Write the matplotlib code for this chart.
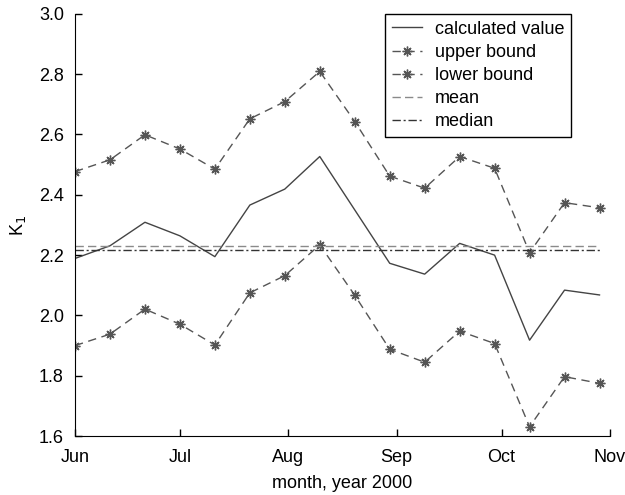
import datetime as dt
import numpy as np
import matplotlib
matplotlib.use('Agg')
import matplotlib.pyplot as plt

# one value every 10 days, starting 1 June 2000
start = dt.date(2000, 6, 1)
step_days = 10
calculated = [2.189, 2.231, 2.309, 2.264, 2.195, 2.366, 2.419, 2.527,
              2.350, 2.173, 2.137, 2.239, 2.200, 1.918, 2.084, 2.068]
upper = [2.477, 2.516, 2.599, 2.552, 2.485, 2.652, 2.709, 2.809,
         2.643, 2.462, 2.422, 2.527, 2.488, 2.208, 2.374, 2.357]
lower = [1.900, 1.938, 2.021, 1.971, 1.902, 2.075, 2.132, 2.234,
         2.067, 1.888, 1.845, 1.948, 1.907, 1.631, 1.797, 1.775]
month_ticks = [dt.date(2000, m, 1) for m in range(6, 12)]
month_labels = ['Jun', 'Jul', 'Aug', 'Sep', 'Oct', 'Nov']
y_ticks = [1.6, 1.8, 2.0, 2.2, 2.4, 2.6, 2.8, 3.0]


def main():
    plt.rcParams['font.family'] = ['Liberation Sans', 'DejaVu Sans']
    plt.rcParams['font.size'] = 13

    dates = [start + dt.timedelta(days=step_days * i) for i in range(len(calculated))]
    mean_val = np.mean(calculated)
    median_val = np.median(calculated)

    fig = plt.figure(figsize=(6.25, 4.95), dpi=100)
    ax = fig.add_axes([0.12, 0.119, 0.856, 0.853])

    ax.plot(dates, calculated, '-', color='#444444', lw=1.0, label='calculated value')
    star = (8, 2, 0)
    ax.plot(dates, upper, '--', color='#555555', lw=1.0, dashes=(6, 4),
            marker=star, ms=7, mew=1.0, label='upper bound')
    ax.plot(dates, lower, '--', color='#555555', lw=1.0, dashes=(6, 4),
            marker=star, ms=7, mew=1.0, label='lower bound')
    ax.plot([dates[0], dates[-1]], [mean_val, mean_val], '--', color='#8a8a8a',
            lw=1.0, dashes=(6, 3), label='mean')
    ax.plot([dates[0], dates[-1]], [median_val, median_val], '-.', color='#333333',
            lw=1.0, dashes=(6, 2, 1.5, 2), label='median')

    ax.set_xlim(month_ticks[0], month_ticks[-1])
    ax.set_ylim(1.6, 3.0)
    ax.set_xticks(month_ticks)
    ax.set_xticklabels(month_labels)
    ax.set_yticks(y_ticks)
    ax.yaxis.set_major_formatter(matplotlib.ticker.FormatStrFormatter('%.1f'))
    ax.tick_params(direction='in', length=5, width=1)
    ax.tick_params(axis='x', pad=9)
    ax.tick_params(axis='y', pad=8)

    ax.spines['top'].set_visible(False)
    ax.spines['right'].set_visible(False)

    ax.set_xlabel('month, year 2000', labelpad=7)
    ax.set_ylabel('K$_1$', labelpad=8)

    leg = ax.legend(loc='upper right', bbox_to_anchor=(0.928, 1.0), fancybox=False,
                    framealpha=1, edgecolor='black', handlelength=1.7,
                    labelspacing=0.34, borderpad=0.38, handletextpad=0.7,
                    borderaxespad=0)
    leg.get_frame().set_linewidth(1.0)

    fig.savefig('out.png', dpi=100)


if __name__ == '__main__':
    main()
